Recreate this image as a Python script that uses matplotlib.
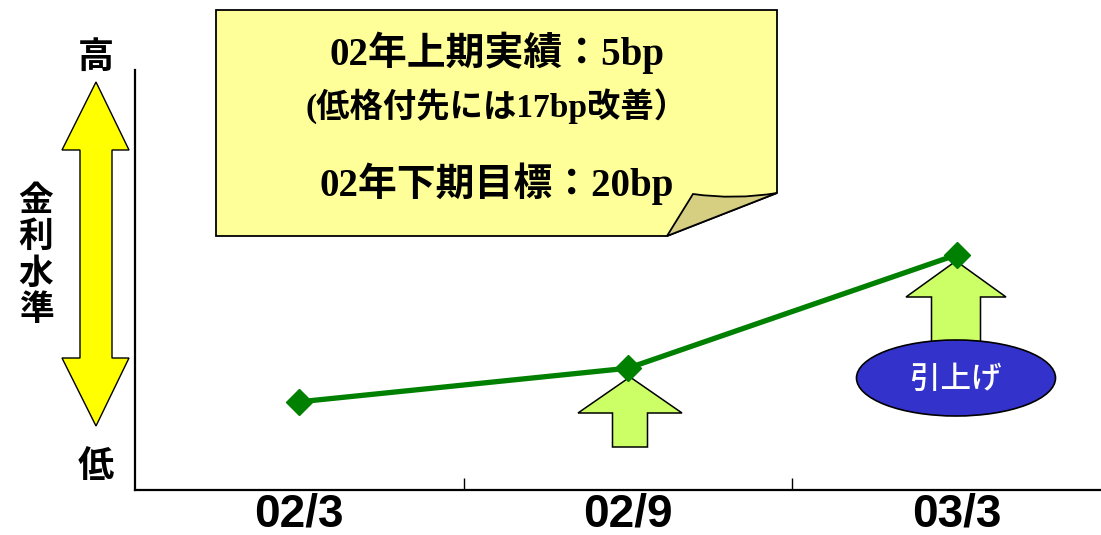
import matplotlib
matplotlib.use("Agg")
import matplotlib.pyplot as plt
from matplotlib.patches import Polygon, Ellipse, PathPatch
from matplotlib.path import Path

# ---- data ----
categories = ["02/3", "02/9", "03/3"]
rate_level = [21, 29, 56]          # relative interest-rate level (no scale shown)
box_lines = ["02年上期実績：5bp", "(低格付先には17bp改善）", "02年下期目標：20bp"]
y_top_label = "高"
y_bottom_label = "低"
y_title = "金利水準"
raise_label = "引上げ"

W, H = 1101, 535
fig = plt.figure(figsize=(W / 100, H / 100), dpi=100)

JP = ["Noto Sans CJK JP", "DejaVu Sans"]
SERIF_JP = ["Liberation Serif", "Noto Sans CJK JP"]

# overlay in pixel coordinates for decorations
ov = fig.add_axes([0, 0, 1, 1], zorder=0)
ov.set_xlim(0, W)
ov.set_ylim(H, 0)
ov.axis("off")

# main chart axes
ax = fig.add_axes([135 / W, 1 - 490 / H, (1121 - 135) / W, (490 - 70) / H], zorder=1)
ax.patch.set_alpha(0)
x = list(range(len(categories)))
ax.plot(x, rate_level, color="#008000", lw=3.8, marker="D", markersize=13,
        markerfacecolor="#008000", markeredgecolor="#008000", zorder=5)
ax.set_xlim(-0.5, 2.5)
ax.set_ylim(0, 100)
ax.set_yticks([])
ax.set_xticks(x)
ax.set_xticklabels(categories, fontsize=33, fontweight="bold", family="Liberation Sans")
ax.set_xticks([0.5, 1.5], minor=True)
ax.tick_params(axis="x", which="major", length=0, pad=2)
ax.tick_params(axis="x", which="minor", direction="in", length=8.5, width=1.0, color="black")
for s in ["top", "right"]:
    ax.spines[s].set_visible(False)
for s in ["left", "bottom"]:
    ax.spines[s].set_linewidth(1.6)
    ax.spines[s].set_color("black")

# yellow double arrow
dbl = [(96, 82), (129, 150), (112, 150), (112, 358), (129, 358), (96, 426),
       (62, 358), (80, 358), (80, 150), (62, 150)]
ov.add_patch(Polygon(dbl, closed=True, facecolor="#ffff00", edgecolor="black", lw=1.0))
ov.text(96, 57, y_top_label, fontsize=26, fontweight="bold", family=JP, ha="center", va="center")
ov.text(96, 466, y_bottom_label, fontsize=26, fontweight="bold", family=JP, ha="center", va="center")
ov.text(36, 255, "\n".join(y_title), fontsize=25, fontweight="bold", family=JP,
        ha="center", va="center", linespacing=1.05)

# callout box with folded corner
box = [(216, 10), (777, 10), (777, 193), (667, 236), (216, 236)]
ov.add_patch(Polygon(box, closed=True, facecolor="#ffff99", edgecolor="black", lw=1.3))
flap_verts = [(667, 236), (693, 194), (735, 200), (777, 193), (667, 236)]
flap_codes = [Path.MOVETO, Path.LINETO, Path.CURVE3, Path.CURVE3, Path.LINETO]
ov.add_patch(PathPatch(Path(flap_verts, flap_codes), facecolor="#d6cf82",
                       edgecolor="black", lw=1.3))
ov.text(497, 53, box_lines[0], fontsize=28, fontweight="bold", family=SERIF_JP,
        ha="center", va="center")
ov.text(497, 106, box_lines[1], fontsize=24, fontweight="bold", family=SERIF_JP,
        ha="center", va="center")
ov.text(497, 184, box_lines[2], fontsize=28, fontweight="bold", family=SERIF_JP,
        ha="center", va="center")

# up arrows
def up_arrow(cx, tip, head_base, bottom, head_half, shaft_half):
    pts = [(cx, tip), (cx + head_half, head_base), (cx + shaft_half, head_base),
           (cx + shaft_half, bottom), (cx - shaft_half, bottom),
           (cx - shaft_half, head_base), (cx - head_half, head_base)]
    ov.add_patch(Polygon(pts, closed=True, facecolor="#ccff66", edgecolor="black", lw=1.1))

up_arrow(630, 377, 413, 447, 52, 17.5)
up_arrow(956, 261, 297, 360, 50, 24.5)

# blue ellipse label
ov.add_patch(Ellipse((956, 378), 199, 76, facecolor="#3333cc", edgecolor="black", lw=1.2))
ov.text(956, 379, raise_label, fontsize=22, fontweight="medium", color="white", family=JP,
        ha="center", va="center")

fig.savefig("out.png", dpi=100)
